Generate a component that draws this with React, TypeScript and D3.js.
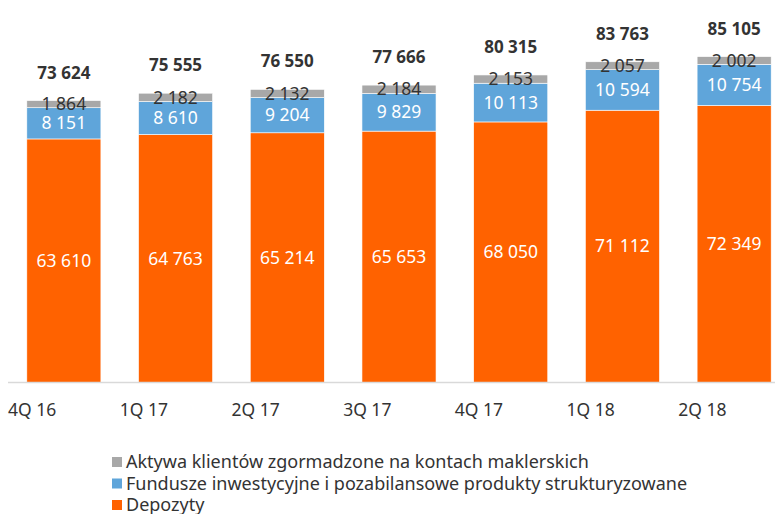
import React from "react";
import * as d3 from "d3";

const categories = ["4Q 16", "1Q 17", "2Q 17", "3Q 17", "4Q 17", "1Q 18", "2Q 18"];
const depozyty = [63610, 64763, 65214, 65653, 68050, 71112, 72349];
const fundusze = [8151, 8610, 9204, 9829, 10113, 10594, 10754];
const aktywa = [1864, 2182, 2132, 2184, 2153, 2057, 2002];
const totals = [73624, 75555, 76550, 77666, 80315, 83763, 85105];

const seriesNames = [
  "Aktywa klientów zgormadzone na kontach maklerskich",
  "Fundusze inwestycyjne i pozabilansowe produkty strukturyzowane",
  "Depozyty",
];
const colors = { dep: "#FF6200", fund: "#5FA5DA", akt: "#A8A8A8" };

const fmt = (v: number) => d3.format(",")(v).replace(/,/g, " ");

export default function App() {
  const W = 779, H = 514;
  const x = d3.scaleBand<string>().domain(categories).range([8, 790]).paddingInner(0.337).paddingOuter(0.1685);
  const y = d3.scaleLinear().domain([0, 100000]).range([382.5, -0.4]);
  const font = "'Noto Sans', sans-serif";
  const bw = x.bandwidth();
  const step = x.step();

  return (
    <svg width={W} height={H} style={{ position: "absolute", left: 0, top: 0, background: "#fff" }} fontFamily={font}>
      {categories.map((c, i) => {
        const x0 = x(c)!;
        const d0 = 0, d1 = depozyty[i];
        const f1 = d1 + fundusze[i];
        const a1 = f1 + aktywa[i];
        const cx = x0 + bw / 2;
        return (
          <g key={c}>
            <rect x={x0} y={y(d1)} width={bw} height={y(d0) - y(d1)} fill={colors.dep} stroke="#fff" strokeWidth={0.6} />
            <rect x={x0} y={y(f1)} width={bw} height={y(d1) - y(f1)} fill={colors.fund} stroke="#fff" strokeWidth={0.6} />
            <rect x={x0} y={y(a1)} width={bw} height={y(f1) - y(a1)} fill={colors.akt} stroke="#fff" strokeWidth={0.6} />
            <text x={cx} y={y(d1 / 2)} dy="0.35em" textAnchor="middle" fill="#fff" fontSize={17.5}>{fmt(depozyty[i])}</text>
            <text x={cx} y={y((d1 + f1) / 2)} dy="0.35em" textAnchor="middle" fill="#fff" fontSize={17.5}>{fmt(fundusze[i])}</text>
            <text x={cx} y={y((f1 + a1) / 2)} dy="0.35em" textAnchor="middle" fill="#333" fontSize={17.5}>{fmt(aktywa[i])}</text>
            <text x={cx} y={y(a1) - 28} dy="0.35em" textAnchor="middle" fill="#333" fontSize={17} fontWeight="bold">{fmt(totals[i])}</text>
            <text x={x0 - step * 0.1685} y={410} dy="0.35em" textAnchor="start" fill="#333" fontSize={17.5}>{c}</text>
          </g>
        );
      })}
      <line x1={8} x2={775} y1={382.5} y2={382.5} stroke="#d9d9d9" strokeWidth={1.5} />
      {seriesNames.map((n, i) => {
        const col = [colors.akt, colors.fund, colors.dep][i];
        const yy = 462 + i * 21.5;
        return (
          <g key={n}>
            <rect x={112} y={yy - 5} width={10} height={10} fill={col} />
            <text x={126} y={yy} dy="0.35em" fill="#333" fontSize={18}>{n}</text>
          </g>
        );
      })}
    </svg>
  );
}
